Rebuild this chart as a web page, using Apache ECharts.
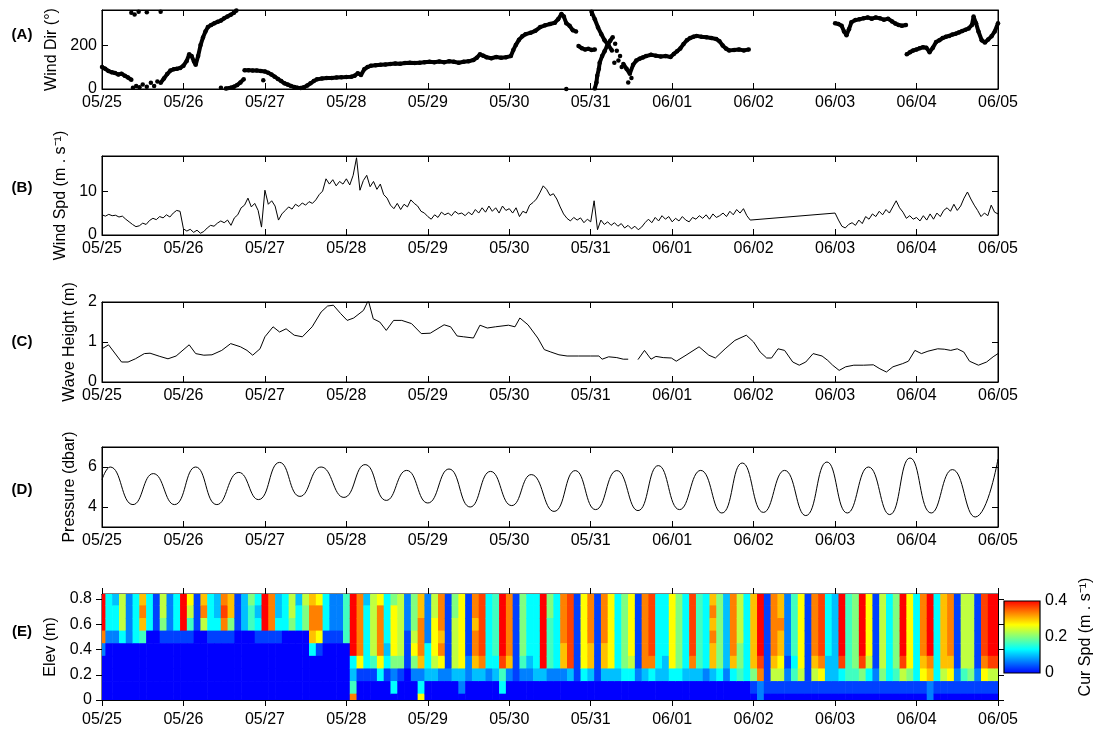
<!DOCTYPE html>
<html>
<head>
<meta charset="utf-8">
<script src="https://cdn.jsdelivr.net/npm/echarts@6/dist/echarts.min.js"></script>
<style>
  html, body { margin: 0; padding: 0; background: #fff; }
  #box { width: 1096px; height: 732px; }
</style>
</head>
<body>
<div id="box"></div>
<script>
// x axis: days since 05/25 00:00
var dayLabels = ['05/25', '05/26', '05/27', '05/28', '05/29', '05/30', '05/31', '06/01', '06/02', '06/03', '06/04', '06/05'];
var dayTicks = [0, 1, 2, 3, 4, 5, 6, 7, 8, 9, 10, 11];

// (A) wind direction, [day, deg]; null breaks the trace (gaps and 0/360 wraps)
var windDir = [
  [0, 100], [0.04, 92], [0.08, 82], [0.12, 76], [0.16, 73], [0.2, 66], [0.24, 70], [0.28, 60], [0.32, 52], [0.36, 42],
  null,
  [0.72, 28], [0.76, 48], [0.8, 68], [0.84, 84], [0.88, 90], [0.92, 92], [0.96, 96], [1.0, 106], [1.04, 128], [1.07, 158],
  [1.1, 150], [1.13, 125], [1.15, 110], [1.18, 150], [1.21, 200], [1.24, 235], [1.27, 262], [1.3, 282], [1.34, 292],
  [1.38, 300], [1.42, 306], [1.46, 312], [1.5, 322], [1.54, 330], [1.58, 338], [1.62, 348], [1.65, 358],
  null,
  [1.52, 2], [1.58, 6], [1.62, 10], [1.66, 18], [1.7, 30], [1.74, 45],
  null,
  [1.75, 85], [1.8, 86], [1.85, 84], [1.9, 84], [1.95, 82], [2.0, 80], [2.04, 74], [2.08, 66], [2.12, 56], [2.16, 46],
  [2.2, 36], [2.24, 26], [2.28, 20], [2.32, 14], [2.36, 9], [2.4, 6], [2.44, 5], [2.48, 8], [2.52, 16], [2.56, 26],
  [2.6, 36], [2.64, 44], [2.7, 48], [2.76, 50], [2.82, 50], [2.88, 52], [2.94, 53], [3.0, 55], [3.06, 56], [3.1, 60],
  [3.14, 72], [3.18, 64], [3.22, 90], [3.26, 100], [3.3, 106], [3.36, 108], [3.42, 110], [3.48, 112], [3.54, 114],
  [3.6, 116], [3.66, 115], [3.72, 118], [3.78, 120], [3.84, 118], [3.9, 120], [3.96, 122], [4.02, 124], [4.08, 122],
  [4.14, 125], [4.2, 122], [4.26, 126], [4.32, 124], [4.38, 120], [4.44, 124], [4.5, 126], [4.56, 132], [4.6, 142],
  [4.64, 158], [4.68, 152], [4.72, 145], [4.78, 140], [4.84, 146], [4.9, 142], [4.96, 145], [5.02, 150], [5.05, 178],
  [5.08, 200], [5.12, 225], [5.16, 240], [5.2, 250], [5.26, 256], [5.32, 265], [5.38, 282], [5.44, 290], [5.5, 296],
  [5.56, 302], [5.6, 318], [5.64, 342], [5.67, 330], [5.7, 300], [5.74, 288], [5.78, 268], [5.82, 262],
  null,
  [5.85, 196], [5.89, 186], [5.93, 180], [5.97, 183], [6.01, 178], [6.05, 180],
  null,
  [6.01, 352], [6.05, 318], [6.09, 280], [6.13, 250], [6.17, 222], [6.22, 198], [6.26, 176],
  null,
  [6.05, 2], [6.07, 30], [6.08, 60], [6.1, 92], [6.11, 120], [6.14, 150], [6.17, 172], [6.2, 196], [6.24, 220], [6.27, 236],
  null,
  [6.4, 114], [6.44, 92], [6.48, 70], [6.52, 110], [6.56, 130], [6.6, 138], [6.64, 144], [6.68, 150], [6.74, 156],
  [6.8, 152], [6.86, 148], [6.92, 150], [6.98, 146], [7.02, 160], [7.06, 172], [7.1, 185], [7.14, 205], [7.18, 222],
  [7.22, 232], [7.26, 238], [7.3, 242], [7.36, 238], [7.42, 236], [7.48, 232], [7.54, 228], [7.58, 218], [7.62, 198],
  [7.66, 184], [7.7, 176], [7.76, 178], [7.82, 180], [7.88, 176], [7.94, 180],
  null,
  [9.0, 300], [9.04, 296], [9.08, 288], [9.11, 262], [9.14, 245], [9.17, 272], [9.2, 304], [9.25, 314], [9.3, 318],
  [9.35, 322], [9.4, 326], [9.45, 320], [9.5, 326], [9.55, 322], [9.6, 316], [9.65, 320], [9.7, 308], [9.74, 298],
  [9.78, 292], [9.82, 288], [9.87, 292],
  null,
  [9.88, 158], [9.92, 168], [9.96, 176], [10.0, 180], [10.04, 186], [10.08, 190], [10.12, 188], [10.16, 168], [10.2, 188],
  [10.24, 214], [10.28, 222], [10.32, 232], [10.36, 238], [10.4, 242], [10.44, 248], [10.48, 252], [10.52, 258],
  [10.56, 264], [10.6, 270], [10.64, 276], [10.68, 292], [10.7, 330], [10.73, 300], [10.76, 262], [10.8, 222],
  [10.84, 212], [10.88, 226], [10.92, 240], [10.96, 262], [11.0, 300]
];
// isolated wind direction samples
var windDirStray = [
  [0.36, 348], [0.4, 340], [0.45, 352], [0.55, 350], [0.72, 352], [0.38, 6], [0.42, 14], [0.46, 8], [0.5, 20],
  [0.55, 10], [0.6, 28], [0.64, 14], [0.68, 34], [1.46, 6], [1.98, 40], [5.7, 0], [6.3, 206], [6.32, 174],
  [6.34, 130], [6.36, 150], [6.38, 100], [6.29, 120], [6.46, 30], [6.5, 50]
];
var dirTicks = [0, 200];

// (B) wind speed, hourly from 05/25 00:00; null = no data
var spdStep = 1 / 24;
var windSpd = [
  4.6, 4.3, 4.7, 4.4, 4.5, 4.1, 4.3, 3.6, 3.0, 2.4, 1.9, 2.1, 2.7, 2.4, 3.3, 3.8, 3.5, 4.2, 3.9, 4.6, 4.1, 5.0, 5.6, 5.4,
  1.4, 0.9, 1.3, 0.6, 1.1, 0.4, 0.8, 1.6, 2.2, 2.0, 2.7, 3.2, 2.8, 3.4, 2.2, 3.9, 4.6, 6.2, 6.8, 8.4, 6.4, 7.2, 5.6, 1.8,
  10.2, 7.0, 7.8, 6.6, 3.4, 4.8, 5.6, 6.4, 5.9, 7.0, 6.5, 7.3, 6.8, 7.6, 7.2, 8.0, 9.2, 10.0, 12.8, 11.6, 12.6, 11.2, 12.2, 11.6,
  12.8, 11.4, 13.6, 17.6, 10.2, 12.4, 13.6, 11.0, 12.2, 10.4, 11.6, 9.2, 8.4, 6.8, 6.0, 7.2, 5.8, 7.0, 6.4, 8.0, 7.2, 6.6, 5.4, 5.0,
  4.2, 3.6, 4.6, 4.0, 5.2, 4.6, 5.0, 4.4, 5.4, 4.8, 5.0, 4.4, 5.2, 4.6, 5.8, 5.0, 6.2, 5.2, 6.6, 5.4, 6.2, 5.0, 6.6, 5.6,
  6.0, 5.0, 6.2, 4.2, 5.4, 5.0, 6.8, 7.4, 8.2, 9.6, 11.2, 10.4, 9.0, 9.4, 8.2, 6.4, 4.8, 3.8, 3.2, 4.0, 3.4, 3.9, 2.8, 3.6,
  3.0, 7.8, 1.2, 3.4, 2.4, 3.0, 2.2, 2.8, 2.0, 2.6, 1.6, 2.2, 1.4, 2.0, 1.2, 1.8, 2.8, 3.6, 2.8, 4.0, 3.2, 4.4, 3.6, 4.2,
  3.0, 3.8, 3.2, 4.2, 3.4, 3.0, 4.0, 3.6, 4.4, 3.8, 4.6, 3.6, 4.8, 4.0, 4.4, 5.0, 4.2, 5.4, 4.6, 5.8, 5.0, 6.0, 4.4, 3.4,
  null, null, null, null, null, null, null, null, null, null, null, null,
  null, null, null, null, null, null, null, null, null, null, null, null,
  5.0, 3.4, 2.0, 1.6, 2.4, 2.8, 2.2, 3.4, 2.6, 4.2, 3.6, 4.8, 4.2, 5.4, 4.6, 5.8, 5.0, 6.4, 7.8, 6.2, 5.2, 3.8, 4.4, 3.6,
  4.0, 3.2, 4.4, 3.4, 4.8, 3.6, 5.0, 4.2, 5.6, 6.2, 5.4, 7.0, 5.6, 6.6, 8.4, 9.8, 8.2, 6.8, 5.6, 4.2, 5.0, 4.4, 6.8, 5.2,
  4.8
];
var spdTicks = [0, 10];

// (C) wave height, [day, m]; null = gap
var waveHeight = [
  [0, 0.83], [0.08, 0.93], [0.24, 0.5], [0.32, 0.5], [0.41, 0.58], [0.52, 0.71], [0.59, 0.72], [0.71, 0.64],
  [0.81, 0.58], [0.91, 0.65], [1.07, 0.93], [1.15, 0.71], [1.25, 0.67], [1.35, 0.68], [1.47, 0.79], [1.58, 0.96],
  [1.7, 0.88], [1.78, 0.79], [1.85, 0.67], [1.94, 0.83], [2.0, 1.13], [2.1, 1.38], [2.18, 1.25], [2.26, 1.33],
  [2.36, 1.17], [2.46, 1.13], [2.58, 1.38], [2.69, 1.75], [2.77, 1.9], [2.84, 1.92], [2.93, 1.71], [3.01, 1.54],
  [3.09, 1.6], [3.21, 1.79], [3.27, 2.04], [3.33, 1.58], [3.41, 1.5], [3.49, 1.29], [3.58, 1.54], [3.68, 1.54],
  [3.8, 1.46], [3.92, 1.21], [4.03, 1.22], [4.2, 1.43], [4.28, 1.38], [4.36, 1.15], [4.44, 1.13], [4.56, 1.1],
  [4.64, 1.42], [4.73, 1.35], [4.83, 1.38], [4.99, 1.42], [5.07, 1.38], [5.13, 1.6], [5.23, 1.43], [5.35, 1.1],
  [5.43, 0.81], [5.51, 0.75], [5.61, 0.68], [5.71, 0.65], [5.85, 0.65], [6.0, 0.65], [6.1, 0.65], [6.14, 0.57],
  [6.22, 0.63], [6.32, 0.61], [6.4, 0.57], [6.46, 0.57],
  null,
  [6.58, 0.56], [6.66, 0.79], [6.74, 0.57], [6.8, 0.64], [6.89, 0.61], [6.99, 0.6], [7.05, 0.52], [7.17, 0.67],
  [7.33, 0.88], [7.45, 0.67], [7.53, 0.6], [7.65, 0.83], [7.77, 1.04], [7.91, 1.17], [8.0, 1.0], [8.08, 0.75],
  [8.16, 0.6], [8.22, 0.6], [8.3, 0.83], [8.38, 0.79], [8.48, 0.5], [8.56, 0.42], [8.64, 0.5], [8.73, 0.71],
  [8.84, 0.65], [8.91, 0.54], [8.97, 0.42], [9.05, 0.29], [9.13, 0.38], [9.23, 0.42], [9.35, 0.42], [9.47, 0.43],
  [9.55, 0.33], [9.63, 0.25], [9.71, 0.38], [9.83, 0.46], [9.9, 0.52], [9.98, 0.79], [10.06, 0.71], [10.14, 0.77],
  [10.26, 0.83], [10.34, 0.82], [10.42, 0.79], [10.5, 0.83], [10.58, 0.75], [10.65, 0.52], [10.76, 0.42],
  [10.86, 0.5], [10.94, 0.63], [11.0, 0.71]
];
var waveTicks = [0, 1, 2];

// (D) pressure, tidal highs and lows [day, dbar]
var pressure = [
  [0, 5.37], [0.1, 6.0], [0.38, 4.12], [0.63, 5.67], [0.89, 4.12], [1.15, 6.0], [1.41, 4.12], [1.68, 5.73],
  [1.92, 4.37], [2.18, 6.23], [2.43, 4.53], [2.69, 6.0], [2.97, 4.48], [3.23, 6.12], [3.49, 4.33], [3.74, 5.83],
  [4.0, 4.2], [4.26, 5.9], [4.52, 4.0], [4.77, 5.78], [5.03, 4.07], [5.27, 5.62], [5.55, 3.78], [5.81, 5.82],
  [6.06, 3.87], [6.32, 5.82], [6.58, 3.82], [6.83, 6.07], [7.09, 3.87], [7.35, 5.83], [7.61, 3.7], [7.86, 6.2],
  [8.12, 3.73], [8.38, 5.83], [8.64, 3.57], [8.9, 6.25], [9.15, 3.7], [9.41, 6.0], [9.67, 3.62], [9.92, 6.45],
  [10.18, 3.7], [10.44, 5.87], [10.72, 3.5], [11.0, 6.4]
];
var presTicks = [4, 6];

// (E) current speed profile: one column every 2 h, rows from 0.8 m down to 0 m,
// each character = speed in steps of 0.4/12 m/s (hex 0..c)
var curStep = 1 / 12;
var elevStep = 0.1;
var elevBins = [0.8, 0.7, 0.6, 0.5, 0.4, 0.3, 0.2, 0.1, 0];
var elevTicks = [0, 0.2, 0.4, 0.6, 0.8];
var curCols = [
  'ccca20000', '444200000', '344200000', '777400000', '222200000', '444400000', '9a9500000', '444000000',
  '111000000', '776100000', '222100000', '444100000',
  'ccc100000', '875100000', '111000000', '9a7000000', '444100000', '334100000', 'aba100000', '996100000',
  '111000000', '333000000', '655000000', '434100000',
  'ccc100000', 'aaa100000', '334100000', '444000000', '776000000', '344000000', '766000000', '9aa940000',
  '8aa810000', '444100000', '222100000', '222100000',
  '555500000', 'ccccc435a', 'aaaaa8100', '344444100', '777775100', '8aaaa8400', '444434100', '688886240',
  '777776100', '222111000', '666786200', '99aaa9248',
  '222244300', '778887300', 'aaa9a8200', '111111200', '667777300', '888888320', '111112200', 'aa9aa9300',
  'bbbbba300', '444444200', '555554300', 'cccccb540',
  'aaaaa9200', '111111100', '666665200', '444443200', '444444300', 'cccccc300', '665555200', '444444200',
  'aaaa99200', 'bbbbbb300', '111111100', '888888400',
  'aaaa99300', '111111100', 'aaaa99300', '888888300', '444444300', '666666400', '888887400', '111111200',
  'aaaaaa300', 'bbbbba400', '444444300', '444443300',
  '888888400', '666666400', '444444300', 'bbbbba300', '555555300', '444444200', '9a9a99300', '666666400',
  '333333200', 'aaaaa9400', '777766500', '444444400',
  '999999610', 'cccccba22', '111111110', 'aaaaa9710', '99a998710', '222221210', '555554510', '888888710',
  '111111110', 'aaaaa9710', 'bbbbba810', '444443310',
  '333333310', 'cccccb410', '555555510', '666666510', 'cccccb610', '888887410', '111111210', '777777610',
  '444444410', '666666510', 'cccccb710', '888888610',
  '444444410', 'aaaaa9810', 'ccccca922', '444444410', '999999710', 'aaaaa9810', '111111210', '777777510',
  '777777610', '111111210', 'bbbbba810', 'cccccb710',
  'cccccb710'
];
var curTicks = [0, 0.2, 0.4];
var jet = ['#0000ff', '#0080ff', '#00ffff', '#80ff80', '#ffff00', '#ff8000', '#ff0000'];

var font = 'Liberation Sans';
var chart = echarts.init(document.getElementById('box'), null, { renderer: 'canvas' });

var panels = [
  { top: 10, height: 79, min: 0, max: 360, ticks: dirTicks, name: 'Wind Dir (°)', gap: 32, tag: '(A)', tagY: 35 },
  { top: 156, height: 79, min: 0, max: 18, ticks: spdTicks, name: 'Wind Spd (m . s⁻¹)', gap: 32, tag: '(B)', tagY: 188 },
  { top: 302, height: 80, min: 0, max: 2, ticks: waveTicks, name: 'Wave Height (m)', gap: 22, tag: '(C)', tagY: 342 },
  { top: 447, height: 80, min: 3, max: 7, ticks: presTicks, name: 'Pressure (dbar)', gap: 22, tag: '(D)', tagY: 490 },
  { top: 594, height: 106, min: 0, max: 0.84, ticks: elevTicks, name: 'Elev (m)', gap: 42, tag: '(E)', tagY: 632, out: true }
];

var grids = [], xAxes = [], yAxes = [], tags = [];
var tickStyle = { color: '#000', width: 1 };
panels.forEach(function (p, i) {
  grids.push({ left: 102, width: 896, top: p.top, height: p.height, show: true, borderColor: '#000', borderWidth: 1,
    backgroundColor: 'transparent', outerBoundsMode: 'none' });
  var tick = { show: true, inside: !p.out, length: 6, lineStyle: tickStyle, customValues: dayTicks };
  xAxes.push({
    type: 'value', gridIndex: i, position: 'bottom', min: 0, max: 11,
    axisLine: { show: true, onZero: false, lineStyle: tickStyle },
    axisTick: tick, splitLine: { show: false },
    axisLabel: { color: '#000', fontFamily: font, fontSize: 16, margin: p.out ? 12 : 6, customValues: dayTicks,
      formatter: function (v) { return dayLabels[Math.round(v)]; } }
  });
  xAxes.push({
    type: 'value', gridIndex: i, position: 'top', min: 0, max: 11,
    axisLine: { show: true, onZero: false, lineStyle: tickStyle },
    axisTick: tick, splitLine: { show: false }, axisLabel: { show: false }
  });
  var ytick = { show: true, inside: !p.out, length: 6, lineStyle: tickStyle, customValues: p.ticks };
  yAxes.push({
    type: 'value', gridIndex: i, position: 'left', min: p.min, max: p.max,
    axisLine: { show: true, onZero: false, lineStyle: tickStyle },
    axisTick: ytick, splitLine: { show: false },
    axisLabel: { color: '#000', fontFamily: font, fontSize: 16, margin: p.out ? 10 : 5, customValues: p.ticks },
    name: p.name, nameLocation: 'middle', nameGap: p.gap, nameRotate: 90,
    nameTextStyle: { color: '#000', fontFamily: font, fontSize: 16 }
  });
  yAxes.push({
    type: 'value', gridIndex: i, position: 'right', min: p.min, max: p.max,
    axisLine: { show: true, onZero: false, lineStyle: tickStyle },
    axisTick: ytick, splitLine: { show: false }, axisLabel: { show: false }
  });
  tags.push({ type: 'text', x: 22, y: p.tagY,
    style: { text: p.tag, fontFamily: font, fontSize: 15, fontWeight: 'bold', fill: '#000', align: 'center', verticalAlign: 'middle' } });
});

// colour bar
grids.push({ left: 1004, top: 601, width: 36, height: 72, show: true, borderColor: '#000', borderWidth: 1.2,
  outerBoundsMode: 'none',
  backgroundColor: { type: 'linear', x: 0, y: 1, x2: 0, y2: 0,
    colorStops: jet.map(function (c, i) { return { offset: i / (jet.length - 1), color: c }; }) } });
xAxes.push({ type: 'value', gridIndex: 5, show: false, min: 0, max: 1 });
yAxes.push({
  type: 'value', gridIndex: 5, position: 'right', min: 0, max: 0.4,
  axisLine: { show: false }, axisTick: { show: false }, splitLine: { show: false },
  axisLabel: { color: '#000', fontFamily: font, fontSize: 16, margin: 5, customValues: curTicks },
  name: 'Cur Spd (m . s⁻¹)', nameLocation: 'middle', nameGap: 38, nameRotate: 90,
  nameTextStyle: { color: '#000', fontFamily: font, fontSize: 16 }
});

function breakable(list) {
  return list.map(function (p) { return p ? p : ['-', '-']; });
}

var heatData = [];
curCols.forEach(function (col, k) {
  for (var r = 0; r < elevBins.length; r++) {
    heatData.push([k * curStep, elevBins[r], parseInt(col.charAt(r), 16) * 0.4 / 12]);
  }
});

var spdData = [];
windSpd.forEach(function (v, i) { if (v !== null) spdData.push([i * spdStep, v]); });

function renderCell(params, api) {
  var t = api.value(0), z = api.value(1);
  var a = api.coord([t - curStep / 2, z + elevStep / 2]);
  var b = api.coord([t + curStep / 2, z - elevStep / 2]);
  var cs = params.coordSys;
  var rect = echarts.graphic.clipRectByRect(
    { x: a[0], y: a[1], width: b[0] - a[0] + 0.6, height: b[1] - a[1] + 0.6 },
    { x: cs.x, y: cs.y, width: cs.width, height: cs.height });
  return rect && { type: 'rect', shape: rect, style: { fill: api.visual('color') } };
}

var option = {
  animation: false,
  backgroundColor: '#fff',
  grid: grids,
  xAxis: xAxes,
  yAxis: yAxes,
  graphic: tags,
  visualMap: [{
    type: 'continuous', show: false, seriesIndex: 0, dimension: 2, min: 0, max: 0.4,
    inRange: { color: jet }
  }],
  series: [
    {
      type: 'custom', xAxisIndex: 8, yAxisIndex: 8, data: heatData, renderItem: renderCell,
      encode: { x: 0, y: 1 }, clip: true, silent: true
    },
    {
      type: 'line', xAxisIndex: 0, yAxisIndex: 0, data: breakable(windDir), connectNulls: false,
      symbol: 'circle', symbolSize: 4.5, showSymbol: true, clip: true,
      lineStyle: { color: '#000', width: 4 }, itemStyle: { color: '#000' }
    },
    {
      type: 'scatter', xAxisIndex: 0, yAxisIndex: 0, data: windDirStray, symbolSize: 4.5, clip: true,
      itemStyle: { color: '#000', opacity: 1 }
    },
    {
      type: 'line', xAxisIndex: 2, yAxisIndex: 2, data: spdData, showSymbol: false, clip: true,
      lineStyle: { color: '#000', width: 1 }
    },
    {
      type: 'line', xAxisIndex: 4, yAxisIndex: 4, data: breakable(waveHeight), showSymbol: false,
      connectNulls: false, clip: true, lineStyle: { color: '#000', width: 1 }
    },
    {
      type: 'line', xAxisIndex: 6, yAxisIndex: 6, data: pressure, showSymbol: false, smooth: 0.5, clip: true,
      lineStyle: { color: '#000', width: 1 }
    }
  ]
};
chart.setOption(option);
</script>
</body>
</html>
